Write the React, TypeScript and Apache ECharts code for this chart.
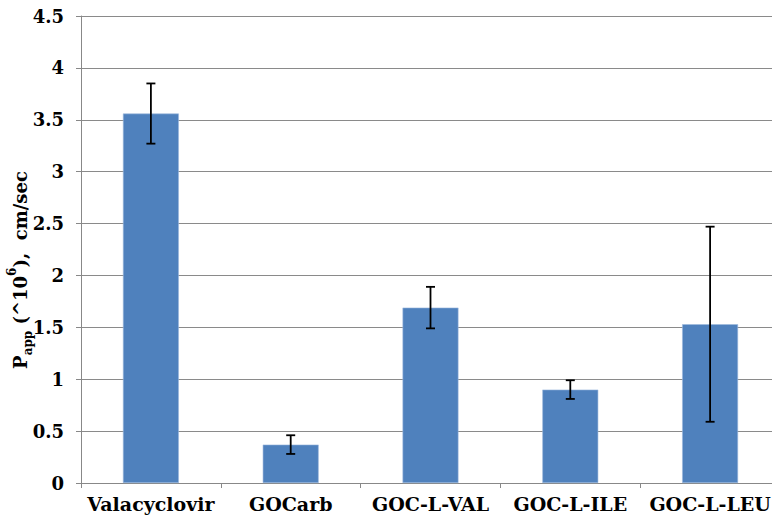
import React, { useEffect, useRef } from "react";
import * as echarts from "echarts";

const categories = ["Valacyclovir", "GOCarb", "GOC-L-VAL", "GOC-L-ILE", "GOC-L-LEU"];
const means = [3.56, 0.37, 1.69, 0.9, 1.53];
const errors = [0.29, 0.09, 0.2, 0.09, 0.94];
const yTicks = [0, 0.5, 1, 1.5, 2, 2.5, 3, 3.5, 4, 4.5];
const yTitle = "{p|P}{sub|app}{t| (^10}{sup|6}{t|),  cm/sec}";

const FONT = "DejaVu Serif";

export default function App() {
  const ref = useRef<HTMLDivElement>(null);
  useEffect(() => {
    document.body.style.margin = "0";
    const chart = echarts.init(ref.current!, null, { renderer: "svg" });
    const errData = categories.map((_, i) => [i, means[i] - errors[i], means[i] + errors[i]]);
    chart.setOption({
      animation: false,
      backgroundColor: "#ffffff",
      grid: { left: 81, right: 0, top: 16, bottom: 40, containLabel: false, outerBoundsMode: "none" },
      graphic: [
        {
          type: "text",
          x: 20,
          y: 270,
          rotation: Math.PI / 2,
          style: {
            text: yTitle,
            align: "center",
            verticalAlign: "middle",
            rich: {
              p: { fontFamily: FONT, fontWeight: "bold", fontSize: 18, fill: "#000", lineHeight: 28, verticalAlign: "middle" },
              sub: { fontFamily: FONT, fontWeight: "bold", fontSize: 12, fill: "#000", lineHeight: 28, verticalAlign: "bottom" },
              sup: { fontFamily: FONT, fontWeight: "bold", fontSize: 12, fill: "#000", lineHeight: 28, verticalAlign: "top" },
              t: { fontFamily: FONT, fontWeight: "bold", fontSize: 18, fill: "#000", lineHeight: 28, verticalAlign: "middle" },
            },
          },
        },
      ],
      xAxis: {
        type: "category",
        data: categories,
        axisLine: { lineStyle: { color: "#888888", width: 1 } },
        axisTick: { show: true, alignWithLabel: false, length: 5, lineStyle: { color: "#888888" } },
        axisLabel: {
          color: "#000",
          fontFamily: FONT,
          fontWeight: "bold",
          fontSize: 19,
          margin: 11,
          interval: 0,
        },
      },
      yAxis: {
        type: "value",
        min: 0,
        max: 4.5,
        interval: 0.5,
        axisLine: { show: true, lineStyle: { color: "#888888", width: 1 } },
        axisTick: { show: true, length: 5, lineStyle: { color: "#888888" } },
        splitLine: { show: true, lineStyle: { color: "#8a8a8a", width: 1.2 } },
        axisLabel: {
          color: "#000",
          fontFamily: FONT,
          fontWeight: "bold",
          fontSize: 18,
          margin: 17,
          formatter: (v: number) => (yTicks.includes(v) ? String(v) : ""),
        },
      },
      series: [
        {
          type: "bar",
          data: means,
          barWidth: "40%",
          itemStyle: { color: "#4F81BD", borderColor: "#9DB9DE", borderWidth: 0.6 },
        },
        {
          type: "custom",
          data: errData,
          z: 10,
          renderItem: (params: any, api: any) => {
            const x = api.coord([api.value(0), api.value(1)])[0];
            const yLow = api.coord([api.value(0), api.value(1)])[1];
            const yHigh = api.coord([api.value(0), api.value(2)])[1];
            const hw = 4.5;
            const style = { stroke: "#000", lineWidth: 1.8 };
            return {
              type: "group",
              children: [
                { type: "line", shape: { x1: x, y1: yLow, x2: x, y2: yHigh }, style },
                { type: "line", shape: { x1: x - hw, y1: yLow, x2: x + hw, y2: yLow }, style },
                { type: "line", shape: { x1: x - hw, y1: yHigh, x2: x + hw, y2: yHigh }, style },
              ],
            };
          },
        },
      ],
    });
    return () => chart.dispose();
  }, []);
  return (
    <div style={{ width: 772, height: 523, overflow: "hidden" }}>
      <div ref={ref} style={{ width: 780, height: 523 }} />
    </div>
  );
}
